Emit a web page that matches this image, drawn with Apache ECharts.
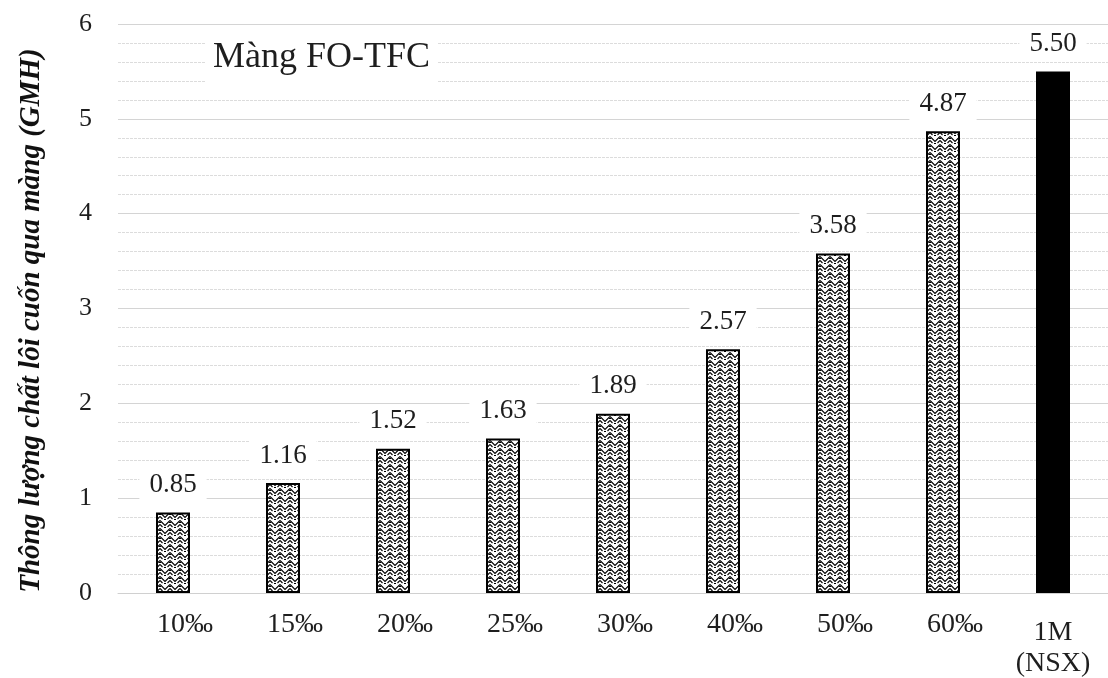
<!DOCTYPE html>
<html>
<head>
<meta charset="utf-8">
<script src="https://cdn.jsdelivr.net/npm/echarts@6/dist/echarts.min.js"></script>
<style>
  html, body { margin: 0; padding: 0; background: #ffffff; }
  #chart { width: 1108px; height: 678px; }
</style>
</head>
<body>
<div id="chart"></div>
<script>
// Membrane concentrations and measured flux
const categories = ['10‰', '15‰', '20‰', '25‰', '30‰', '40‰', '50‰', '60‰', '1M\n(NSX)'];
const fluxValues = [0.85, 1.16, 1.52, 1.63, 1.89, 2.57, 3.58, 4.87, 5.50];
const referenceIndex = 8; // last bar is the commercial reference, drawn solid
const yTicks = [0, 1, 2, 3, 4, 5, 6];
const yAxisTitle = 'Thông lượng chất lôi cuốn qua màng (GMH)';
const boxTitle = 'Màng FO-TFC';

// Small woven hatch tile used to fill the sample bars
function makeHatch() {
  const c = document.createElement('canvas');
  c.width = 10; c.height = 8;
  const g = c.getContext('2d');
  g.fillStyle = '#ffffff';
  g.fillRect(0, 0, 10, 8);
  g.strokeStyle = '#000000';
  g.lineWidth = 1.1;
  g.beginPath();
  g.moveTo(0, 0.5); g.lineTo(5, 5.5); g.lineTo(10, 0.5);
  g.moveTo(0, 4.5); g.lineTo(2.5, 7);
  g.moveTo(7.5, 7); g.lineTo(10, 4.5);
  g.stroke();
  g.fillStyle = '#000000';
  g.fillRect(4, 7, 2, 1);
  g.fillRect(0, 2, 1, 1);
  g.fillRect(9, 2, 1, 1);
  return c;
}
const hatch = makeHatch();

const font = '"Liberation Serif", "Times New Roman", serif';
const textColor = '#1e1e1e';

const seriesData = fluxValues.map((v, i) => ({
  value: v,
  itemStyle: i === referenceIndex
    ? { color: '#000000', borderColor: '#000000', borderWidth: 2 }
    : { color: { image: hatch, repeat: 'repeat' }, borderColor: '#000000', borderWidth: 2 }
}));

const chart = echarts.init(document.getElementById('chart'));
chart.setOption({
  animation: false,
  backgroundColor: '#ffffff',
  grid: { left: 118, right: 0, top: 24, bottom: 85 },
  title: {
    text: boxTitle,
    left: 206,
    top: 31,
    backgroundColor: '#ffffff',
    padding: [8, 7, 10, 7],
    textStyle: { fontFamily: font, fontSize: 36, fontWeight: 'normal', color: textColor, lineHeight: 38 }
  },
  xAxis: {
    type: 'category',
    data: categories,
    axisLine: { show: true, lineStyle: { color: '#d0d0d0', width: 1 } },
    axisTick: { show: false },
    axisLabel: {
      margin: 18,
      // two-line labels sit a little lower, below a thin spacer line
      formatter: v => v.indexOf('\n') >= 0
        ? '{g| }\n' + v.split('\n').map(s => '{m|' + s + '}').join('\n')
        : '{s|' + v + '}',
      rich: {
        s: { fontFamily: font, fontSize: 28, color: textColor, lineHeight: 28, padding: [0, 0, 0, 24] },
        g: { fontSize: 1, lineHeight: 6 },
        m: { fontFamily: font, fontSize: 28, color: textColor, lineHeight: 31 }
      }
    }
  },
  yAxis: {
    type: 'value',
    min: yTicks[0],
    max: yTicks[yTicks.length - 1],
    interval: 1,
    name: yAxisTitle,
    nameLocation: 'middle',
    nameGap: 72,
    nameRotate: 90,
    nameTextStyle: {
      fontFamily: font, fontSize: 29, fontWeight: 'bold', fontStyle: 'italic', color: '#111111',
      padding: [0, 24, 0, 0]
    },
    axisLine: { show: false },
    axisTick: { show: false },
    axisLabel: { fontFamily: font, fontSize: 26, color: textColor, margin: 26 },
    splitLine: { show: true, lineStyle: { color: '#d4d4d4', width: 1 } },
    minorTick: { show: false, splitNumber: 5 },
    minorSplitLine: { show: true, lineStyle: { color: '#dcdcdc', width: 1, type: [3, 1] } }
  },
  series: [{
    type: 'bar',
    data: seriesData,
    barWidth: 34,
    label: {
      show: true,
      position: 'top',
      distance: 11,
      formatter: p => p.value.toFixed(2),
      fontFamily: font,
      fontSize: 27,
      color: textColor,
      backgroundColor: '#ffffff',
      padding: [3, 10, 3, 10]
    }
  }]
});
</script>
</body>
</html>
